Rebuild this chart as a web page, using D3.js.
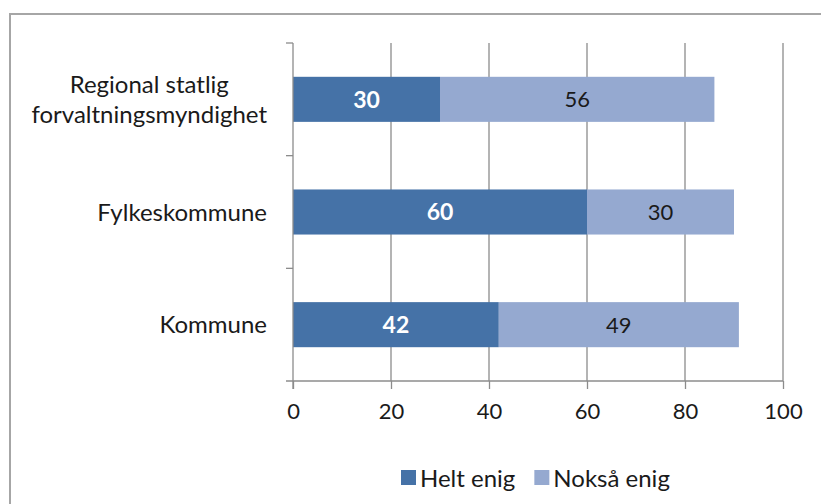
<!DOCTYPE html>
<html>
<head>
<meta charset="utf-8">
<script src="https://cdn.jsdelivr.net/npm/d3@7/dist/d3.min.js"></script>
<style>
body { margin: 0; background: #fff; }
svg text { font-family: Lato, "Open Sans", sans-serif; }
</style>
</head>
<body>
<div id="root"></div>
<script>
const width = 821;
const height = 504;

const categories = [["Regional statlig", "forvaltningsmyndighet"], ["Fylkeskommune"], ["Kommune"]];
const seriesNames = ["Helt enig", "Nokså enig"];
const heltEnig = [30, 60, 42];
const noksaEnig = [56, 30, 49];
const xTicks = [0, 20, 40, 60, 80, 100];
const colors = ["#4572a7", "#95a9d0"];

const margin = { left: 293, right: 38, top: 43, bottom: 123 };

const svg = d3.select("#root")
    .append("svg")
    .attr("width", width)
    .attr("height", height);

// chart frame (runs off right/bottom edge)
svg.append("rect")
    .attr("x", 10)
    .attr("y", 14)
    .attr("width", 900)
    .attr("height", 600)
    .attr("fill", "none")
    .attr("stroke", "#a6a6a6")
    .attr("stroke-width", 2);

const x = d3.scaleLinear()
    .domain([0, 100])
    .range([margin.left, width - margin.right]);

const y = d3.scaleBand()
    .domain(d3.range(categories.length))
    .range([margin.top, height - margin.bottom])
    .padding(0);

const barH = y.bandwidth() * 0.4;

// gridlines
svg.append("g")
    .selectAll("line")
    .data(xTicks.slice(1))
    .join("line")
    .attr("x1", d => x(d))
    .attr("x2", d => x(d))
    .attr("y1", margin.top)
    .attr("y2", height - margin.bottom)
    .attr("stroke", "#8c8c8c")
    .attr("stroke-width", 1.3);

const rows = categories.map((c, i) => ({ i, a: heltEnig[i], b: noksaEnig[i] }));

// bars
const bars = svg.append("g");
bars.selectAll(".a")
    .data(rows)
    .join("rect")
    .attr("x", x(0))
    .attr("y", d => y(d.i) + (y.bandwidth() - barH) / 2)
    .attr("width", d => x(d.a) - x(0))
    .attr("height", barH)
    .attr("fill", colors[0]);
bars.selectAll(".b")
    .data(rows)
    .join("rect")
    .attr("x", d => x(d.a))
    .attr("y", d => y(d.i) + (y.bandwidth() - barH) / 2)
    .attr("width", d => x(d.a + d.b) - x(d.a))
    .attr("height", barH)
    .attr("fill", colors[1]);

// value labels
bars.selectAll(".la")
    .data(rows)
    .join("text")
    .attr("x", d => x(d.a / 2))
    .attr("y", d => y(d.i) + y.bandwidth() / 2)
    .attr("dy", "0.36em")
    .attr("text-anchor", "middle")
    .attr("fill", "#fff")
    .attr("font-weight", "bold")
    .attr("font-size", 23)
    .text(d => d.a);
bars.selectAll(".lb")
    .data(rows)
    .join("text")
    .attr("x", d => x(d.a + d.b / 2))
    .attr("y", d => y(d.i) + y.bandwidth() / 2)
    .attr("dy", "0.36em")
    .attr("text-anchor", "middle")
    .attr("fill", "#1a1a1a")
    .attr("font-size", 22)
    .text(d => d.b);

// x axis
const xAxis = svg.append("g")
    .attr("transform", `translate(0,${height - margin.bottom})`)
    .call(d3.axisBottom(x).tickValues(xTicks).tickSize(8).tickPadding(14));
xAxis.select(".domain").attr("stroke", "#8c8c8c").attr("stroke-width", 1.3)
    .attr("d", `M${x(0) - 7},0H${x(100)}`);
xAxis.selectAll(".tick line").attr("stroke", "#8c8c8c").attr("stroke-width", 1.3);
xAxis.selectAll(".tick text")
    .attr("font-family", "Lato, sans-serif")
    .attr("font-size", 22)
    .attr("fill", "#1a1a1a");

// y axis line with boundary ticks
const yAxis = svg.append("g");
yAxis.append("line")
    .attr("x1", x(0)).attr("x2", x(0))
    .attr("y1", margin.top).attr("y2", height - margin.bottom + 8)
    .attr("stroke", "#8c8c8c").attr("stroke-width", 1.3);
yAxis.selectAll(".bt")
    .data(d3.range(categories.length))
    .join("line")
    .attr("x1", x(0) - 7).attr("x2", x(0))
    .attr("y1", d => y(d)).attr("y2", d => y(d))
    .attr("stroke", "#8c8c8c").attr("stroke-width", 1.3);

// category labels
const labelRight = x(0) - 26;
const catG = svg.append("g");
categories.forEach((lines, i) => {
    const t = catG.append("text")
        .attr("font-size", 24)
        .attr("fill", "#1a1a1a")
        .attr("text-anchor", "middle");
    const lh = 30;
    const cy = y(i) + y.bandwidth() / 2;
    lines.forEach((s, k) => {
        t.append("tspan")
            .attr("x", 0)
            .attr("y", cy + (k - (lines.length - 1) / 2) * lh)
            .attr("dy", "0.36em")
            .text(s);
    });
    const w = d3.max(t.selectAll("tspan").nodes(), n => n.getComputedTextLength());
    t.selectAll("tspan").attr("x", labelRight - w / 2);
});

// legend
const legend = svg.append("g").attr("transform", "translate(401,478)");
let lx = 0;
seriesNames.forEach((name, i) => {
    legend.append("rect")
        .attr("x", lx).attr("y", -8)
        .attr("width", 15).attr("height", 15)
        .attr("fill", colors[i]);
    const t = legend.append("text")
        .attr("x", lx + 19)
        .attr("dy", "0.36em")
        .attr("font-size", 24)
        .attr("fill", "#1a1a1a")
        .text(name);
    lx += 19 + t.node().getComputedTextLength() + 19;
});
</script>
</body>
</html>
